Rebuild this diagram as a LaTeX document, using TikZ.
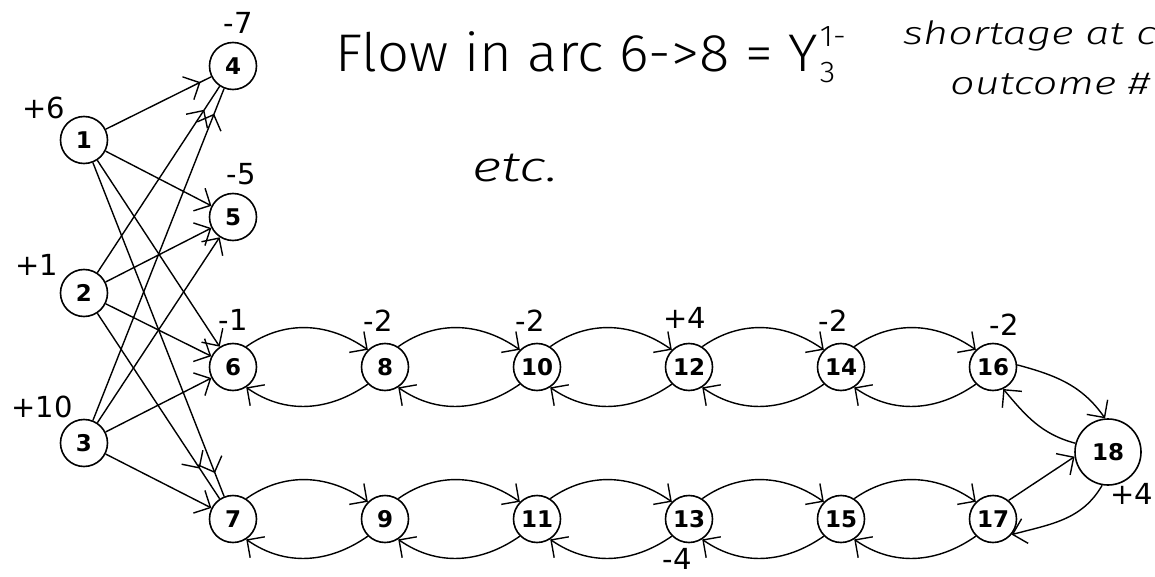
\documentclass[tikz,border=0pt]{standalone}
\usepackage{fontspec}
\usepackage{graphicx}
\setmainfont{DejaVu Sans}
\newfontfamily\titlefont{Fira Sans Light}[FakeStretch=1.06]
\newfontfamily\notefont{Fira Sans Light Italic}[FakeStretch=1.35]
\usetikzlibrary{arrows.meta,decorations.markings}

\tikzset{
  barb/.tip={Straight Barb[angle=90:18pt]},
  vertex/.style={circle, draw, line width=1.6pt, minimum size=47pt, inner sep=0pt,
    font=\fontsize{23}{23}\selectfont\bfseries},
  bigvertex/.style={vertex, minimum size=66pt},
  supply/.style={inner sep=0pt, font=\fontsize{29}{29}\selectfont},
  arc/.style={line width=1.4pt, -barb},
  back/.style={line width=1.4pt, postaction={decorate},
    decoration={markings, mark=at position -#1 with {\arrow{barb}}}},
}

\begin{document}
\begin{tikzpicture}[x=1pt,y=1pt]
\path[use as bounding box, fill=white] (0,0) rectangle (1155,-577);

% source nodes
\node[vertex] (n1) at (84,-140) {1};
\node[vertex] (n2) at (84,-293) {2};
\node[vertex] (n3) at (84,-443) {3};
% first-stage sinks
\node[vertex] (n4) at (233,-66) {4};
\node[vertex] (n5) at (233,-217) {5};
\node[vertex] (n6) at (233,-367) {6};
\node[vertex] (n7) at (233,-519) {7};
% the two chains
\node[vertex] (n8)  at (385,-367) {8};
\node[vertex] (n10) at (537,-367) {10};
\node[vertex] (n12) at (689,-367) {12};
\node[vertex] (n14) at (841,-367) {14};
\node[vertex] (n16) at (993,-367) {16};
\node[vertex] (n9)  at (385,-519) {9};
\node[vertex] (n11) at (537,-519) {11};
\node[vertex] (n13) at (689,-519) {13};
\node[vertex] (n15) at (841,-519) {15};
\node[vertex] (n17) at (993,-519) {17};
\node[bigvertex] (n18) at (1108,-452) {18};

% supplies and demands
\node[supply] (s1)  at (44,-108)  {+6};
\node[supply] (s2)  at (37,-265)  {+1};
\node[supply] (s3)  at (42,-407)  {+10};
\node[supply] (s4)  at (238,-23)  {-7};
\node[supply] (s5)  at (241,-174) {-5};
\node[supply] (s6)  at (233,-320) {-1};
\node[supply] (s8)  at (378,-321) {-2};
\node[supply] (s10) at (530,-321) {-2};
\node[supply] (s12) at (685,-318) {+4};
\node[supply] (s14) at (833,-321) {-2};
\node[supply] (s16) at (1004,-325) {-2};
\node[supply] (s13) at (677,-559) {-4};
\node[supply] (s18) at (1132,-494) {+4};

% bipartite arcs
\draw[back=12pt] (n1) -- (n4);
\draw[back=28pt] (n2) -- (n4);
\draw[back=27pt] (n3) -- (n4);
\draw[arc] (n1) -- (n5);
\draw[arc] (n2) -- (n5);
\draw[arc] (n3) -- (n5);
\draw[arc] (n1) -- (n6);
\draw[arc] (n2) -- (n6);
\draw[arc] (n3) -- (n6);
\draw[back=25pt] (n1) -- (n7);
\draw[back=36pt] (n2) -- (n7);
\draw[arc] (n3) -- (n7);

% forward and backward arcs along both chains
\foreach \a/\b in {6/8,8/10,10/12,12/14,14/16,7/9,9/11,11/13,13/15,15/17}{
  \draw[arc] (n\a.57) to[out=35,in=145] (n\b.135);
  \draw[arc] (n\b.225) to[out=215,in=-35] (n\a.-57);
}

% arcs through node 18
\draw[arc] (n16.5) to[out=-15,in=125] (n18.95);
\draw[arc] (n18.165) to[out=165,in=-50] (n16.-65);
\draw[arc] (n17.50) -- (n18.188);
\draw[arc] (n18.260) to[out=240,in=15] (n17.-40);

% annotations
\node[anchor=base west, inner sep=0pt] (title) at (335,-72)
  {\titlefont\fontsize{53}{53}\selectfont Flow in arc 6->8 = Y\kern2pt\rlap{\raisebox{25pt}{\fontsize{30}{30}\selectfont 1-}}\raisebox{-11pt}{\fontsize{30}{30}\selectfont 3}};
\node[anchor=base west, inner sep=0pt] (note1) at (903,-45)
  {\notefont\fontsize{32}{32}\selectfont shortage at c};
\node[anchor=base west, inner sep=0pt] (note2) at (950,-95)
  {\notefont\fontsize{32}{32}\selectfont outcome \#};
\node[anchor=base west, inner sep=0pt] (etc) at (472,-182)
  {\notefont\fontsize{42}{42}\selectfont etc.};
\end{tikzpicture}
\end{document}
